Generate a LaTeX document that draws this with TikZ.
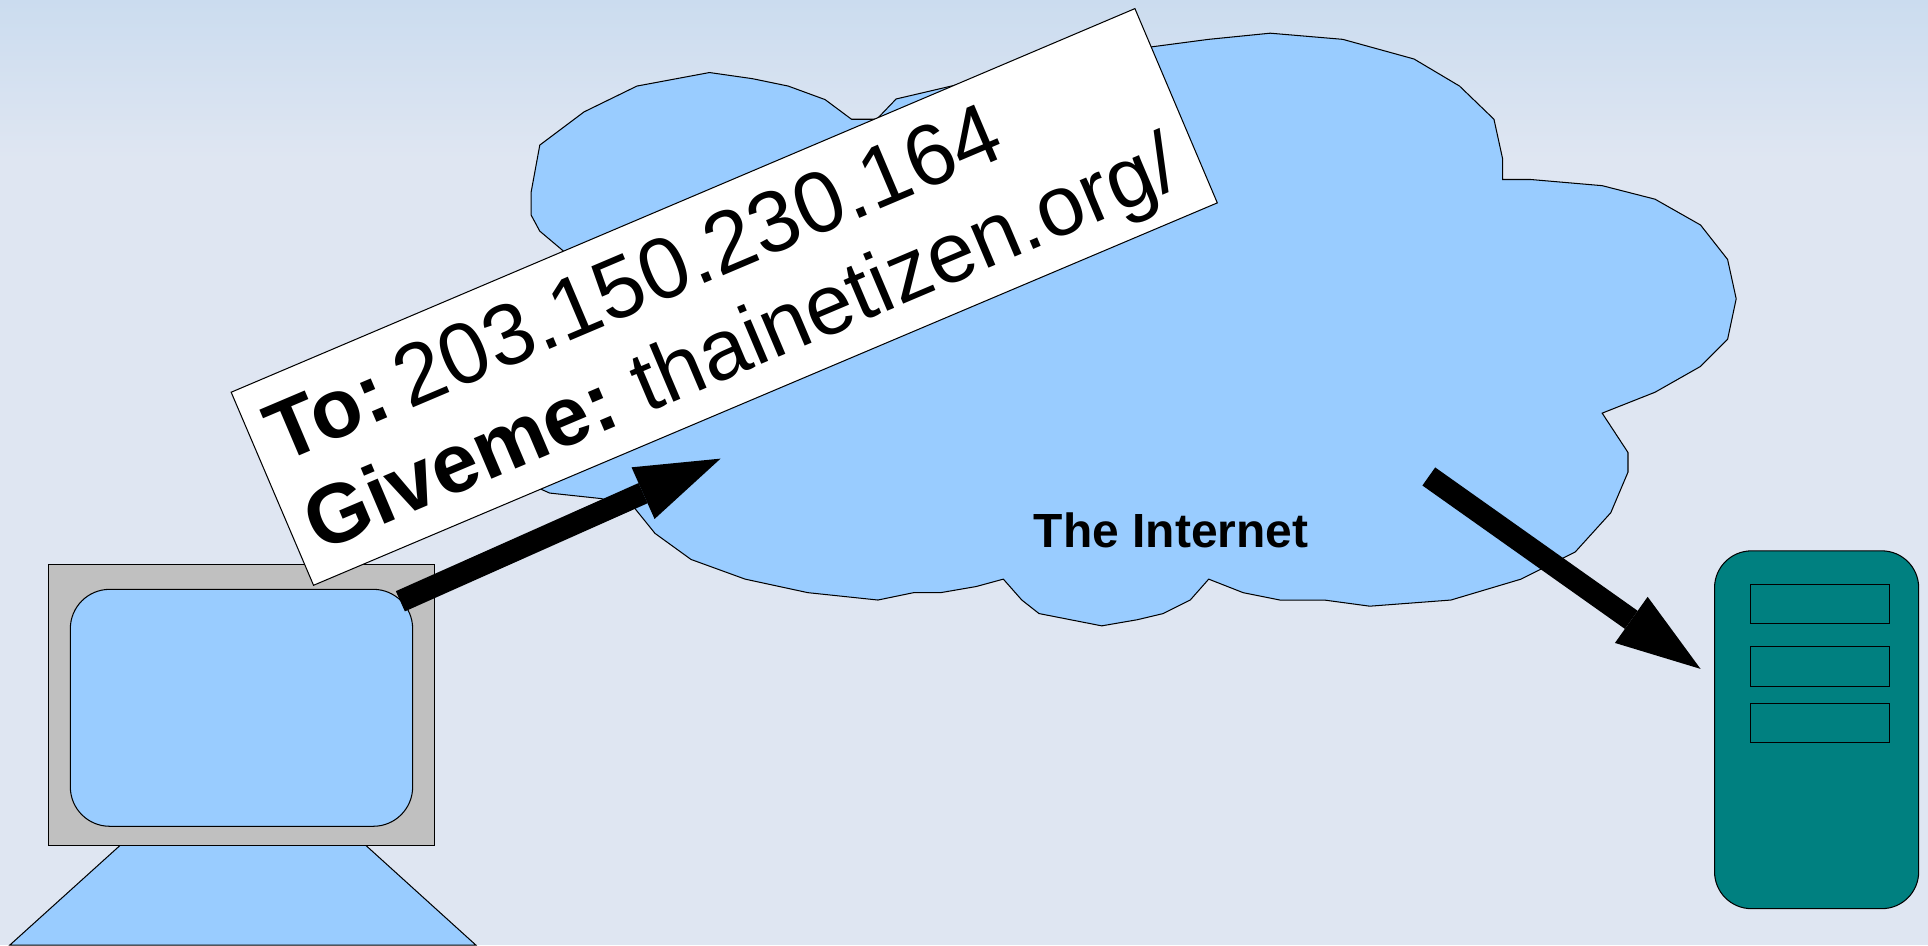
\documentclass[tikz,border=0pt]{standalone}
\usepackage{fontspec}
\setmainfont{Liberation Sans}
\usetikzlibrary{arrows.meta}
\definecolor{bgtop}{HTML}{CBDCEF}
\definecolor{bgmid}{HTML}{DFE6F2}
\definecolor{skyblue}{HTML}{99CCFF}
\definecolor{monitorgray}{HTML}{C0C0C0}
\definecolor{serverteal}{HTML}{008080}
\newcommand{\boldpart}[1]{{\fontsize{34pt}{36pt}\selectfont\bfseries #1}}
\newcommand{\plainpart}[2]{{\fontsize{#1}{36pt}\selectfont #2}}
\tikzset{
  thinline/.style={draw=black,line width=0.42pt},
  bluefill/.style={thinline,fill=skyblue},
  bigarrow/.style={line width=9pt,draw=black,-{Triangle[length=#1,width=23pt,line width=0pt]}},
  labeltext/.style={anchor=base west,inner sep=0pt,outer sep=0pt,rotate=23,text=black},
  cloudtext/.style={inner sep=0pt,font=\fontsize{19.5pt}{22pt}\selectfont\bfseries,text=black},
}
\begin{document}
\begin{tikzpicture}[x=0.5pt,y=-0.5pt]
\useasboundingbox (0,0) rectangle (1568,768.6);
% background
\fill[bgmid] (0,0) rectangle (1568,768.6);
\shade[top color=bgtop,bottom color=bgmid] (0,0) rectangle (1568,130);
% cloud
\draw[bluefill] (458,204) -- (439,188) -- (432,175) -- (432,156) -- (439,118) -- (475,91) -- (518,70) -- (577,59) -- (612,64) -- (641,70) -- (671,81) -- (692.5,97) -- (713,97) -- (728.8,80.5) -- (778,69) -- (937.5,38) -- (983,32) -- (1033,27) -- (1092,32) -- (1150,48) -- (1187,70) -- (1215,97) -- (1222,129) -- (1222,146) -- (1245,146) -- (1303,151) -- (1346,162) -- (1383,183) -- (1405,211) -- (1412,243) -- (1405,276) -- (1383,298) -- (1346,319) -- (1303,336) -- (1324,368) -- (1324,384) -- (1310,417) -- (1281,449) -- (1237,471) -- (1180,488) -- (1114,493) -- (1077,488) -- (1041,488) -- (1011,482) -- (983,471) -- (968,488) -- (946,499) -- (925,504) -- (896,509) -- (845,499) -- (831,488) -- (816,471) -- (794,477) -- (765,482) -- (743,482) -- (714,488) -- (657,482) -- (606,471) -- (562,455) -- (532.7,433.8) -- (516.4,413.6) -- (489,405.5) -- (447,401) -- (438,397) -- cycle;
\node[cloudtext] (internet) at (952.5,431.5) {The Internet};
% computer
\draw[bluefill] (97.6,687.6) -- (8,768.6) -- (387,768.6) -- (297.6,687.6) -- cycle;
\draw[thinline,fill=monitorgray] (39.3,459) rectangle (353.2,687.6);
\draw[bluefill,rounded corners=16pt] (57.2,479.3) rectangle (335.6,672);
% server
\draw[thinline,fill=serverteal,rounded corners=15pt] (1394.4,448) rectangle (1560.4,739);
\draw[thinline,fill=serverteal] (1423.3,475) rectangle (1536.7,507);
\draw[thinline,fill=serverteal] (1423.3,526) rectangle (1536.7,558.6);
\draw[thinline,fill=serverteal] (1423.3,571.8) rectangle (1536.7,604);
% label
\draw[thinline,fill=white] (188,319) -- (923,7) -- (990,165) -- (255,476) -- cycle;
\node[labeltext] (toline) at (229,376.9) {\boldpart{To:}\hspace{6.2pt}\plainpart{35.2pt}{203.150.230.164}};
\node[labeltext] (givemeline) at (259.7,449.2) {\boldpart{Giveme:}\hspace{10.5pt}\plainpart{34.7pt}{thainetizen.org/}};
% arrows
\coordinate (leftTail) at (325.6,489);
\coordinate (leftTip) at (586,373);
\coordinate (rightTail) at (1162,387.5);
\coordinate (rightTip) at (1383,544);
\draw[bigarrow=34.5pt] (leftTail) -- (leftTip);
\draw[bigarrow=34.5pt] (rightTail) -- (rightTip);
\end{tikzpicture}
\end{document}
